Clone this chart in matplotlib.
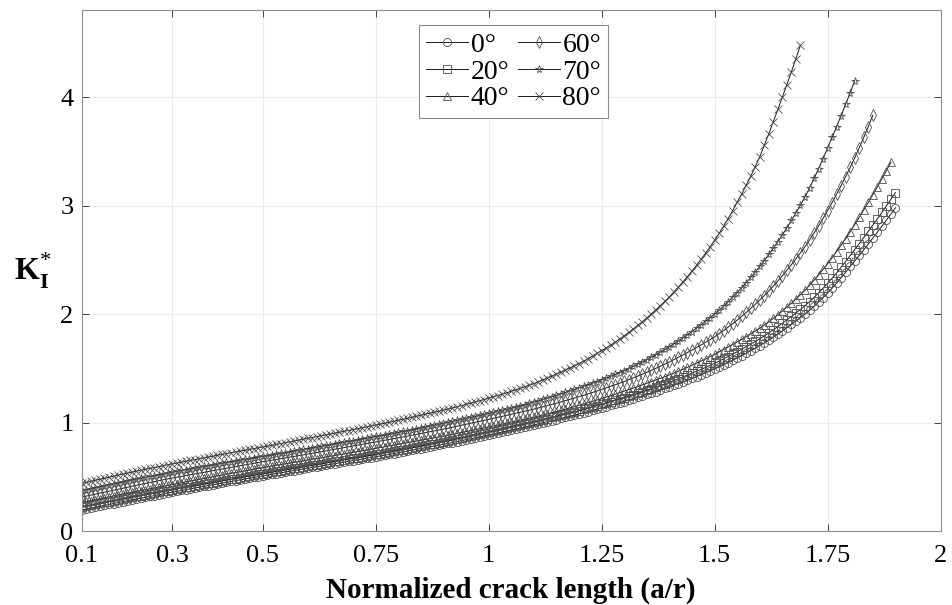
import numpy as np
import matplotlib
matplotlib.use("Agg")
import matplotlib.pyplot as plt

plt.rcParams['font.family'] = ['Liberation Serif', 'DejaVu Serif']
plt.rcParams['mathtext.fontset'] = 'custom'
plt.rcParams['mathtext.rm'] = 'Liberation Serif'
plt.rcParams['mathtext.bf'] = 'Liberation Serif:bold'

# normalized crack length a/r, sampled every 0.01 from 0.10
a_r = np.round(np.arange(10, 191) / 100, 2)

k_0 = [0.195, 0.204, 0.212, 0.221, 0.229, 0.238, 0.246, 0.255, 0.263, 0.272,
       0.280, 0.288, 0.296, 0.304, 0.312, 0.320, 0.328, 0.336, 0.344, 0.352,
       0.360, 0.368, 0.375, 0.383, 0.390, 0.398, 0.405, 0.413, 0.420, 0.428,
       0.435, 0.443, 0.450, 0.458, 0.465, 0.473, 0.480, 0.488, 0.495, 0.503,
       0.510, 0.517, 0.524, 0.531, 0.538, 0.545, 0.552, 0.559, 0.566, 0.573,
       0.580, 0.587, 0.594, 0.601, 0.608, 0.615, 0.622, 0.629, 0.636, 0.643,
       0.650, 0.657, 0.664, 0.672, 0.679, 0.686, 0.693, 0.700, 0.708, 0.715,
       0.722, 0.730, 0.738, 0.745, 0.753, 0.761, 0.769, 0.777, 0.784, 0.792,
       0.800, 0.809, 0.817, 0.826, 0.834, 0.843, 0.851, 0.860, 0.868, 0.877,
       0.885, 0.894, 0.904, 0.913, 0.922, 0.932, 0.941, 0.950, 0.959, 0.969,
       0.978, 0.988, 0.998, 1.009, 1.019, 1.029, 1.039, 1.049, 1.060, 1.070,
       1.080, 1.091, 1.102, 1.113, 1.125, 1.136, 1.148, 1.159, 1.171, 1.183,
       1.195, 1.207, 1.220, 1.233, 1.246, 1.260, 1.273, 1.287, 1.301, 1.315,
       1.330, 1.345, 1.360, 1.376, 1.392, 1.408, 1.425, 1.442, 1.459, 1.477,
       1.495, 1.514, 1.534, 1.554, 1.575, 1.596, 1.618, 1.640, 1.663, 1.686,
       1.710, 1.735, 1.761, 1.788, 1.816, 1.845, 1.875, 1.905, 1.936, 1.968,
       2.000, 2.035, 2.072, 2.111, 2.152, 2.195, 2.240, 2.287, 2.336, 2.387,
       2.440, 2.490, 2.541, 2.593, 2.646, 2.700, 2.754, 2.809, 2.865, 2.922,
       2.980]

k_20 = [0.225, 0.233, 0.241, 0.249, 0.257, 0.265, 0.273, 0.281, 0.289, 0.297,
        0.305, 0.313, 0.320, 0.328, 0.336, 0.344, 0.351, 0.359, 0.367, 0.374,
        0.382, 0.390, 0.397, 0.404, 0.411, 0.419, 0.426, 0.434, 0.440, 0.448,
        0.455, 0.463, 0.470, 0.478, 0.485, 0.493, 0.500, 0.508, 0.515, 0.523,
        0.530, 0.537, 0.544, 0.551, 0.558, 0.565, 0.572, 0.579, 0.586, 0.593,
        0.600, 0.607, 0.614, 0.621, 0.628, 0.635, 0.643, 0.650, 0.657, 0.664,
        0.671, 0.678, 0.685, 0.693, 0.700, 0.707, 0.714, 0.722, 0.730, 0.737,
        0.744, 0.752, 0.760, 0.768, 0.776, 0.784, 0.792, 0.800, 0.808, 0.816,
        0.824, 0.833, 0.841, 0.851, 0.859, 0.868, 0.877, 0.886, 0.894, 0.903,
        0.911, 0.920, 0.930, 0.940, 0.949, 0.959, 0.968, 0.977, 0.987, 0.997,
        1.006, 1.016, 1.027, 1.038, 1.048, 1.059, 1.069, 1.080, 1.091, 1.101,
        1.111, 1.123, 1.134, 1.146, 1.158, 1.170, 1.182, 1.194, 1.206, 1.219,
        1.231, 1.244, 1.257, 1.271, 1.285, 1.300, 1.313, 1.328, 1.343, 1.357,
        1.373, 1.389, 1.405, 1.422, 1.439, 1.456, 1.473, 1.491, 1.509, 1.528,
        1.547, 1.567, 1.588, 1.609, 1.631, 1.654, 1.677, 1.700, 1.724, 1.748,
        1.773, 1.800, 1.827, 1.856, 1.885, 1.916, 1.947, 1.979, 2.011, 2.045,
        2.078, 2.115, 2.154, 2.196, 2.239, 2.284, 2.331, 2.380, 2.432, 2.485,
        2.540, 2.594, 2.649, 2.705, 2.762, 2.820, 2.878, 2.937, 2.997, 3.058,
        3.120]

k_40 = [0.265, 0.274, 0.282, 0.291, 0.299, 0.308, 0.316, 0.325, 0.333, 0.342,
        0.350, 0.358, 0.366, 0.374, 0.382, 0.390, 0.398, 0.406, 0.414, 0.422,
        0.430, 0.438, 0.446, 0.454, 0.462, 0.470, 0.478, 0.486, 0.494, 0.502,
        0.510, 0.518, 0.525, 0.533, 0.540, 0.548, 0.555, 0.563, 0.570, 0.578,
        0.585, 0.592, 0.599, 0.606, 0.613, 0.620, 0.627, 0.634, 0.641, 0.648,
        0.655, 0.662, 0.669, 0.676, 0.683, 0.690, 0.697, 0.704, 0.711, 0.718,
        0.725, 0.733, 0.740, 0.748, 0.755, 0.763, 0.770, 0.778, 0.785, 0.793,
        0.800, 0.808, 0.815, 0.823, 0.830, 0.838, 0.845, 0.853, 0.860, 0.868,
        0.875, 0.884, 0.892, 0.901, 0.909, 0.918, 0.926, 0.935, 0.943, 0.952,
        0.960, 0.969, 0.978, 0.987, 0.996, 1.005, 1.014, 1.023, 1.032, 1.041,
        1.050, 1.060, 1.070, 1.081, 1.091, 1.102, 1.113, 1.124, 1.136, 1.148,
        1.160, 1.172, 1.184, 1.197, 1.209, 1.222, 1.235, 1.248, 1.262, 1.276,
        1.290, 1.304, 1.318, 1.333, 1.348, 1.363, 1.378, 1.393, 1.408, 1.424,
        1.440, 1.457, 1.474, 1.492, 1.510, 1.529, 1.548, 1.567, 1.587, 1.608,
        1.630, 1.652, 1.674, 1.697, 1.720, 1.744, 1.768, 1.793, 1.818, 1.844,
        1.870, 1.899, 1.929, 1.961, 1.994, 2.028, 2.064, 2.101, 2.139, 2.179,
        2.220, 2.265, 2.312, 2.361, 2.412, 2.465, 2.520, 2.577, 2.636, 2.697,
        2.760, 2.825, 2.892, 2.960, 3.029, 3.100, 3.172, 3.246, 3.322, 3.399]

k_60 = [0.315, 0.324, 0.333, 0.342, 0.351, 0.360, 0.369, 0.378, 0.387, 0.396,
        0.405, 0.414, 0.422, 0.431, 0.439, 0.448, 0.456, 0.465, 0.473, 0.482,
        0.490, 0.498, 0.505, 0.513, 0.520, 0.528, 0.535, 0.543, 0.550, 0.558,
        0.565, 0.573, 0.580, 0.588, 0.595, 0.603, 0.610, 0.618, 0.625, 0.633,
        0.640, 0.647, 0.654, 0.661, 0.668, 0.675, 0.682, 0.689, 0.696, 0.703,
        0.710, 0.718, 0.725, 0.733, 0.740, 0.748, 0.755, 0.763, 0.770, 0.778,
        0.785, 0.793, 0.800, 0.808, 0.815, 0.823, 0.830, 0.838, 0.845, 0.853,
        0.860, 0.868, 0.876, 0.884, 0.892, 0.900, 0.908, 0.916, 0.924, 0.932,
        0.940, 0.949, 0.958, 0.967, 0.976, 0.985, 0.994, 1.003, 1.012, 1.021,
        1.030, 1.039, 1.049, 1.058, 1.068, 1.077, 1.087, 1.096, 1.106, 1.115,
        1.125, 1.136, 1.146, 1.157, 1.168, 1.180, 1.191, 1.203, 1.215, 1.227,
        1.240, 1.252, 1.265, 1.278, 1.292, 1.306, 1.320, 1.334, 1.349, 1.364,
        1.380, 1.396, 1.412, 1.429, 1.446, 1.464, 1.482, 1.500, 1.519, 1.539,
        1.560, 1.581, 1.602, 1.624, 1.646, 1.669, 1.692, 1.716, 1.740, 1.765,
        1.790, 1.819, 1.849, 1.880, 1.912, 1.945, 1.980, 2.016, 2.053, 2.091,
        2.130, 2.171, 2.214, 2.259, 2.306, 2.354, 2.404, 2.456, 2.510, 2.565,
        2.622, 2.683, 2.747, 2.813, 2.882, 2.954, 3.028, 3.105, 3.185, 3.267,
        3.352, 3.440, 3.532, 3.628, 3.728, 3.832]

k_70 = [0.375, 0.384, 0.393, 0.402, 0.411, 0.420, 0.429, 0.438, 0.447, 0.456,
        0.465, 0.473, 0.481, 0.489, 0.497, 0.505, 0.513, 0.521, 0.529, 0.537,
        0.545, 0.553, 0.560, 0.568, 0.575, 0.583, 0.590, 0.598, 0.605, 0.613,
        0.620, 0.627, 0.634, 0.641, 0.648, 0.655, 0.662, 0.669, 0.676, 0.683,
        0.690, 0.697, 0.704, 0.711, 0.718, 0.725, 0.732, 0.739, 0.746, 0.753,
        0.760, 0.768, 0.775, 0.783, 0.790, 0.798, 0.805, 0.813, 0.820, 0.828,
        0.835, 0.843, 0.850, 0.858, 0.865, 0.873, 0.880, 0.888, 0.895, 0.903,
        0.910, 0.919, 0.927, 0.936, 0.944, 0.953, 0.961, 0.970, 0.978, 0.987,
        0.995, 1.004, 1.013, 1.022, 1.031, 1.040, 1.049, 1.058, 1.067, 1.076,
        1.085, 1.095, 1.104, 1.114, 1.124, 1.135, 1.145, 1.156, 1.167, 1.178,
        1.190, 1.202, 1.214, 1.227, 1.239, 1.252, 1.265, 1.278, 1.292, 1.306,
        1.320, 1.334, 1.349, 1.364, 1.379, 1.395, 1.411, 1.427, 1.444, 1.462,
        1.480, 1.499, 1.519, 1.539, 1.560, 1.582, 1.604, 1.627, 1.651, 1.675,
        1.700, 1.726, 1.753, 1.781, 1.810, 1.840, 1.870, 1.901, 1.933, 1.966,
        2.000, 2.036, 2.074, 2.114, 2.155, 2.198, 2.243, 2.290, 2.338, 2.388,
        2.440, 2.494, 2.550, 2.608, 2.668, 2.731, 2.796, 2.863, 2.933, 3.005,
        3.080, 3.163, 3.250, 3.340, 3.433, 3.530, 3.628, 3.728, 3.830, 3.934,
        4.040, 4.150]

k_80 = [0.440, 0.450, 0.459, 0.469, 0.478, 0.488, 0.497, 0.507, 0.516, 0.526,
        0.535, 0.544, 0.552, 0.561, 0.569, 0.578, 0.586, 0.595, 0.603, 0.612,
        0.620, 0.628, 0.636, 0.644, 0.652, 0.660, 0.668, 0.676, 0.684, 0.692,
        0.700, 0.708, 0.715, 0.723, 0.730, 0.738, 0.745, 0.753, 0.760, 0.768,
        0.775, 0.783, 0.791, 0.799, 0.807, 0.815, 0.823, 0.831, 0.839, 0.847,
        0.855, 0.863, 0.871, 0.879, 0.887, 0.895, 0.903, 0.911, 0.919, 0.927,
        0.935, 0.944, 0.952, 0.961, 0.969, 0.978, 0.986, 0.995, 1.003, 1.012,
        1.020, 1.030, 1.039, 1.049, 1.058, 1.068, 1.077, 1.087, 1.096, 1.106,
        1.115, 1.125, 1.135, 1.146, 1.157, 1.168, 1.179, 1.190, 1.201, 1.213,
        1.225, 1.237, 1.249, 1.262, 1.275, 1.288, 1.302, 1.316, 1.330, 1.345,
        1.360, 1.376, 1.393, 1.410, 1.428, 1.446, 1.465, 1.484, 1.504, 1.524,
        1.545, 1.567, 1.590, 1.614, 1.638, 1.663, 1.689, 1.715, 1.742, 1.770,
        1.800, 1.831, 1.863, 1.896, 1.930, 1.965, 2.002, 2.040, 2.079, 2.119,
        2.160, 2.204, 2.250, 2.297, 2.346, 2.397, 2.450, 2.505, 2.561, 2.619,
        2.680, 2.744, 2.811, 2.881, 2.954, 3.030, 3.108, 3.189, 3.273, 3.360,
        3.450, 3.556, 3.664, 3.774, 3.886, 4.000, 4.116, 4.234, 4.354, 4.480]

series = [k_0, k_20, k_40, k_60, k_70, k_80]
labels = ['0°', '20°', '40°', '60°', '70°', '80°']
markers = ['o', 's', '^', 'd', '*', 'x']
x_ticks = [0.1, 0.3, 0.5, 0.75, 1, 1.25, 1.5, 1.75, 2]
x_tick_labels = ['0.1', '0.3', '0.5', '0.75', '1', '1.25', '1.5', '1.75', '2']

fig = plt.figure(figsize=(9.52, 6.05), dpi=100)
ax = fig.add_axes([0.086, 0.122, 0.902, 0.861])

for k, lab, m in zip(series, labels, markers):
    ax.plot(a_r[:len(k)], k, color='0.1', lw=0.7, marker=m, ms=5.8,
            mfc='none', mec='0.3', mew=0.6, label=lab)

ax.set_xlim(0.1, 2)
ax.set_ylim(0, 4.8)
ax.set_xticks(x_ticks)
ax.set_xticklabels(x_tick_labels)
ax.set_yticks([0, 1, 2, 3, 4])
ax.tick_params(direction='in', length=5, width=0.6, colors='0.15',
               labelsize=19, labelcolor='k', top=True, right=True)
ax.tick_params(axis='x', pad=10)
ax.tick_params(axis='y', pad=6)
ax.grid(True, color='0.92', lw=0.8)
ax.set_axisbelow(True)
for s in ax.spines.values():
    s.set_color('0.55')
    s.set_linewidth(0.8)

ax.set_xlabel('Normalized crack length (a/r)', fontsize=21, fontweight='bold', labelpad=7)
ax.set_ylabel(r'$\mathbf{K}_{\mathbf{I}}^{*}$', fontsize=23, rotation=0, labelpad=20, va='center')

leg = ax.legend(ncol=2, loc='upper center', bbox_to_anchor=(0.503, 0.971),
                borderaxespad=0, fontsize=20, handlelength=1.5, handletextpad=0.1,
                columnspacing=0.3, labelspacing=0.05, borderpad=0.25,
                fancybox=False, framealpha=1, edgecolor='0.55')
leg.get_frame().set_linewidth(0.8)

fig.savefig('out.png', dpi=100)
